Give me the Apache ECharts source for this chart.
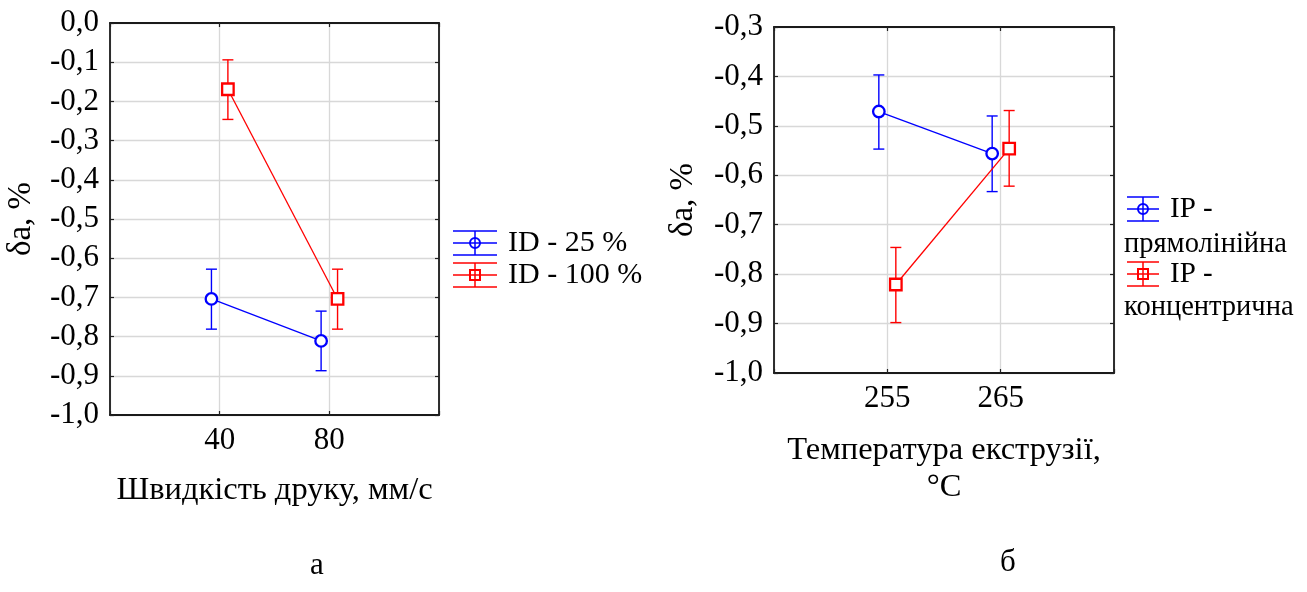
<!DOCTYPE html>
<html><head><meta charset="utf-8">
<script src="https://cdn.jsdelivr.net/npm/echarts@6/dist/echarts.min.js"></script>
<style>html,body{margin:0;padding:0;background:#fff}#c{width:1307px;height:592px}</style>
</head><body><div id="c"></div>
<script>
// ---- data ----
const speedCats = ['40', '80'];
const tempCats = ['255', '265'];
const id25Mean = [-0.704, -0.811];
const id25Low = [-0.781, -0.887];
const id25High = [-0.628, -0.735];
const id100Mean = [-0.169, -0.704];
const id100Low = [-0.246, -0.781];
const id100High = [-0.094, -0.628];
const ipLineMean = [-0.471, -0.556];
const ipLineLow = [-0.547, -0.633];
const ipLineHigh = [-0.397, -0.480];
const ipConcMean = [-0.821, -0.546];
const ipConcLow = [-0.898, -0.622];
const ipConcHigh = [-0.746, -0.469];
const leftYTicks = {min: -1.0, max: 0.0, interval: 0.1};
const rightYTicks = {min: -1.0, max: -0.3, interval: 0.1};
const legendLeft = ['ID - 25 %', 'ID - 100 %'];
const legendRight = [['IP -', 'прямолінійна'], ['IP -', 'концентрична']];
const xNameLeft = 'Швидкість друку, мм/с';
const xNameRight = 'Температура екструзії,\n°C';
const yName = 'δa, %';
const captions = ['а', 'б'];

// ---- helpers ----
const FONT = 'Liberation Serif';
const BLUE = '#0000ff', RED = '#ff0000';
const OFF = 0.075;
const FRAME = {show: true, onZero: false, lineStyle: {color: '#1a1a1a', width: 1.8}};
function fmt(v){ if (Math.abs(v) < 1e-9) return '0,0'; return v.toFixed(1).replace('.', ','); }
function pts(mean, shift){ return mean.map((v,i)=>[i+1+shift, v]); }
function errData(low, high, shift){ return low.map((l,i)=>[i+1+shift, l, high[i]]); }

function errSeries(gi, low, high, shift, color){
  return {
    type: 'custom', xAxisIndex: gi*2, yAxisIndex: gi*2, z: 3,
    data: errData(low, high, shift),
    renderItem: function(params, api){
      const x = api.value(0);
      const lo = api.coord([x, api.value(1)]);
      const hi = api.coord([x, api.value(2)]);
      const w = 5.5;
      const st = {stroke: color, lineWidth: 1.4};
      return {type: 'group', children: [
        {type:'line', shape:{x1:lo[0],y1:lo[1],x2:hi[0],y2:hi[1]}, style: st},
        {type:'line', shape:{x1:lo[0]-w,y1:lo[1],x2:lo[0]+w,y2:lo[1]}, style: st},
        {type:'line', shape:{x1:hi[0]-w,y1:hi[1],x2:hi[0]+w,y2:hi[1]}, style: st}
      ]};
    }
  };
}
function lineSeries(gi, name, mean, shift, color, symbol){
  return {
    type: 'line', name: name, xAxisIndex: gi*2, yAxisIndex: gi*2, z: 4,
    data: pts(mean, shift), symbol: symbol, symbolSize: 11.5,
    lineStyle: {color: color, width: 1.3},
    itemStyle: {color: '#fff', borderColor: color, borderWidth: 2.3},
    emphasis: {disabled: true}, animation: false
  };
}
function xAxes(gi, cats, name, nameGap){
  const base = {
    type: 'value', gridIndex: gi, min: 0, max: 3, interval: 1,
    axisLine: FRAME, axisTick: {show: true, inside: true, length: 4, lineStyle: {color: '#222', width: 1.2}},
    splitLine: {show: true, lineStyle: {color: '#d8d8d8', width: 1.3}}
  };
  return [
    Object.assign({}, base, {
      position: 'bottom',
      axisLabel: {fontFamily: FONT, fontSize: 31, color: '#000', margin: 10,
        formatter: v => (v >= 1 && v <= cats.length && Number.isInteger(v)) ? cats[v-1] : ''},
      name: name, nameLocation: 'middle', nameGap: nameGap,
      nameTextStyle: {fontFamily: FONT, fontSize: 32.5, color: '#000', lineHeight: 37}
    }),
    Object.assign({}, base, {position: 'top', axisLabel: {show: false}, splitLine: {show: false}})
  ];
}
function yAxes(gi, t, nameGap){
  const base = {
    type: 'value', gridIndex: gi, min: t.min, max: t.max, interval: t.interval,
    axisLine: FRAME, axisTick: {show: true, inside: true, length: 4, lineStyle: {color: '#222', width: 1.2}},
    splitLine: {show: true, lineStyle: {color: '#d8d8d8', width: 1.3}}
  };
  return [
    Object.assign({}, base, {
      position: 'left',
      axisLabel: {fontFamily: FONT, fontSize: 31, color: '#000', margin: 11, formatter: fmt},
      name: yName, nameLocation: 'middle', nameGap: nameGap, nameRotate: 90,
      nameTextStyle: {fontFamily: FONT, fontSize: 33, color: '#000'}
    }),
    Object.assign({}, base, {position: 'right', axisLabel: {show: false}, splitLine: {show: false}})
  ];
}
function legendSym(cx, cy, w, color, kind){
  const st = {stroke: color, lineWidth: 1.5, fill: null};
  const ch = [
    {type:'line', shape:{x1:cx-w/2,y1:cy-12,x2:cx+w/2,y2:cy-12}, style: st},
    {type:'line', shape:{x1:cx-w/2,y1:cy,x2:cx+w/2,y2:cy}, style: st},
    {type:'line', shape:{x1:cx-w/2,y1:cy+12,x2:cx+w/2,y2:cy+12}, style: st},
    {type:'line', shape:{x1:cx,y1:cy-12,x2:cx,y2:cy+12}, style: st}
  ];
  if (kind === 'circle') ch.push({type:'circle', shape:{cx:cx, cy:cy, r:5}, style:{stroke: color, lineWidth: 2, fill: 'none'}});
  else ch.push({type:'rect', shape:{x:cx-5, y:cy-5, width:10, height:10}, style:{stroke: color, lineWidth: 2, fill: 'none'}});
  return {type:'group', children: ch, silent: true};
}
function txt(x, y, s, align, size){
  return {type:'text', x: x, y: y, silent: true,
    style: {text: s, font: (size || 30) + 'px "' + FONT + '"', fill: '#000', textAlign: align || 'left', textVerticalAlign: 'middle'}};
}

const option = {
  backgroundColor: '#fff',
  animation: false,
  grid: [
    {left: 110, top: 23, width: 329, height: 392},
    {left: 774, top: 27, width: 340, height: 346}
  ],
  xAxis: [].concat(xAxes(0, speedCats, xNameLeft, 57), xAxes(1, tempCats, xNameRight, 59)),
  yAxis: [].concat(yAxes(0, leftYTicks, 72), yAxes(1, rightYTicks, 74)),
  series: [
    lineSeries(0, legendLeft[0], id25Mean, -OFF, BLUE, 'circle'),
    lineSeries(0, legendLeft[1], id100Mean, OFF, RED, 'rect'),
    errSeries(0, id25Low, id25High, -OFF, BLUE),
    errSeries(0, id100Low, id100High, OFF, RED),
    lineSeries(1, 'IP - прямолінійна', ipLineMean, -OFF, BLUE, 'circle'),
    lineSeries(1, 'IP - концентрична', ipConcMean, OFF, RED, 'rect'),
    errSeries(1, ipLineLow, ipLineHigh, -OFF, BLUE),
    errSeries(1, ipConcLow, ipConcHigh, OFF, RED)
  ],
  graphic: [
    legendSym(475, 243, 44, BLUE, 'circle'),
    legendSym(475, 275, 44, RED, 'rect'),
    txt(508, 243, legendLeft[0]),
    txt(508, 275, legendLeft[1]),
    legendSym(1143, 209, 32, BLUE, 'circle'),
    txt(1170, 209, legendRight[0][0], 'left', 29),
    txt(1124, 245, legendRight[0][1], 'left', 28.5),
    legendSym(1143, 274, 32, RED, 'rect'),
    txt(1170, 274, legendRight[1][0], 'left', 29),
    txt(1124, 308, legendRight[1][1], 'left', 28.5),
    txt(317, 566, captions[0], 'center', 31),
    txt(1008, 563, captions[1], 'center', 31)
  ]
};
const chart = echarts.init(document.getElementById('c'), null, {renderer: 'canvas'});
chart.setOption(option);
</script></body></html>
